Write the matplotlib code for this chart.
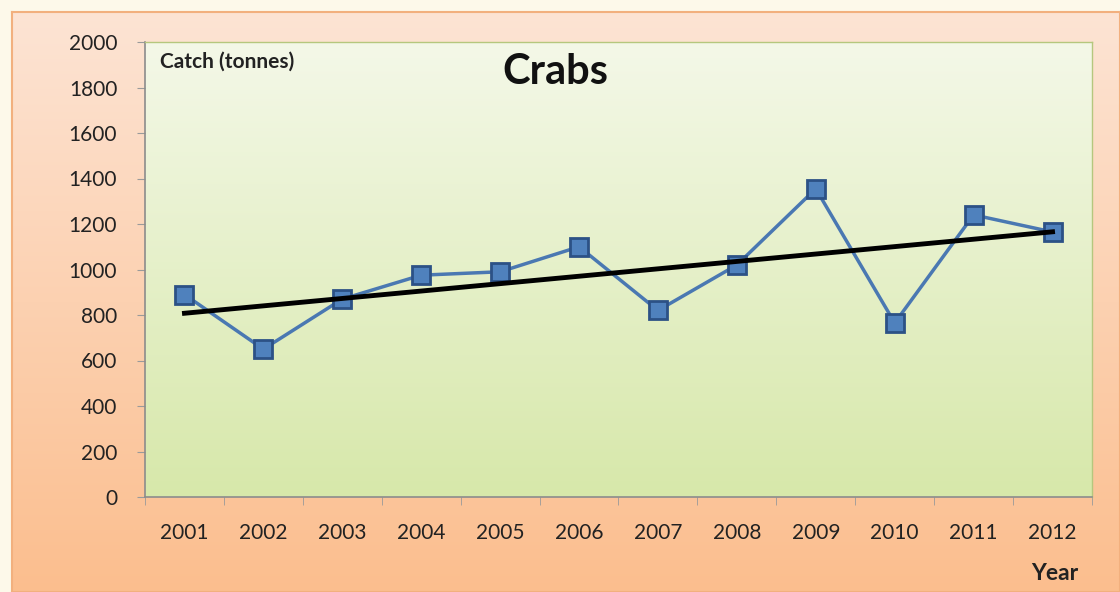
import matplotlib.pyplot as plt
import numpy as np

# Dados
anos = ['2001', '2002', '2003', '2004', '2005', '2006',
        '2007', '2008', '2009', '2010', '2011', '2012']
capturas = [890, 650, 870, 975, 990, 1100, 820, 1020, 1355, 765, 1240, 1165]

plt.rcParams['font.family'] = ['Lato', 'DejaVu Sans']

fig = plt.figure(figsize=(11.2, 5.92), dpi=100)
fig.patch.set_facecolor('#fdf9ea')

# Painel laranja com gradiente (fundo do gráfico)
painel = fig.add_axes([12 / 1120, 0, 1 - 12 / 1120, 1 - 12 / 592], zorder=0)
grad = np.linspace(0, 1, 256).reshape(-1, 1)
topo = np.array([253, 228, 212]) / 255
base = np.array([251, 190, 142]) / 255
cores = topo + (base - topo) * grad[:, :, None]
painel.imshow(cores, aspect='auto', extent=[0, 1, 0, 1], origin='upper')
painel.set_xlim(0, 1)
painel.set_ylim(0, 1)
painel.set_xticks([])
painel.set_yticks([])
for s in painel.spines.values():
    s.set_color('#f2b07e')
    s.set_linewidth(1.5)

# Área do gráfico
ax = fig.add_axes([145 / 1120, 1 - 497 / 592, (1092 - 145) / 1120, (497 - 42) / 592], zorder=1)
topo_v = np.array([244, 248, 232]) / 255
base_v = np.array([215, 232, 170]) / 255
cores_v = topo_v + (base_v - topo_v) * grad[:, :, None]
ax.imshow(cores_v, aspect='auto', extent=[0, 1, 0, 1], origin='upper',
          transform=ax.transAxes, zorder=0)

x = np.arange(1, len(anos) + 1)
ax.plot(x, capturas, color='#4a78b2', linewidth=2.5, marker='s', markersize=13,
        markerfacecolor='#4f81bd', markeredgecolor='#2c5186', markeredgewidth=2, zorder=3)

# Linha de tendência (ajuste linear)
coef = np.polyfit(x, capturas, 1)
ax.plot(x, np.polyval(coef, x), color='black', linewidth=3.5, zorder=4)

ax.set_xlim(0.5, 12.5)
ax.set_ylim(0, 2000)
ax.set_yticks(np.arange(0, 2001, 200))
ax.set_xticks(x)
ax.set_xticklabels(anos)
ax.set_xticks(np.arange(0.5, 13, 1), minor=True)
ax.tick_params(axis='x', which='major', length=0, pad=19, labelsize=15, colors='#222222')
ax.tick_params(axis='x', which='minor', length=6, direction='out', color='#9a9a9a')
ax.tick_params(axis='y', length=6, direction='out', color='#9a9a9a', pad=14,
               labelsize=15, labelcolor='#222222')
ax.set_facecolor('none')

for lado in ['left', 'bottom']:
    ax.spines[lado].set_color('#8c8c8c')
    ax.spines[lado].set_linewidth(1.2)
for lado in ['top', 'right']:
    ax.spines[lado].set_color('#b5c77e')
    ax.spines[lado].set_linewidth(1.0)

fig.text(555 / 1120, 1 - 72 / 592, 'Crabs', fontsize=30, fontweight='bold',
         ha='center', va='center', color='#111111', zorder=5)
fig.text(160 / 1120, 1 - 62 / 592, 'Catch (tonnes)', fontsize=15, fontweight='bold',
         ha='left', va='center', color='#222222', zorder=5)
fig.text(1055 / 1120, 1 - 573 / 592, 'Year', fontsize=16.5, fontweight='bold',
         ha='center', va='center', color='#222222', zorder=5)

fig.savefig('out.png', dpi=100, facecolor=fig.get_facecolor())
